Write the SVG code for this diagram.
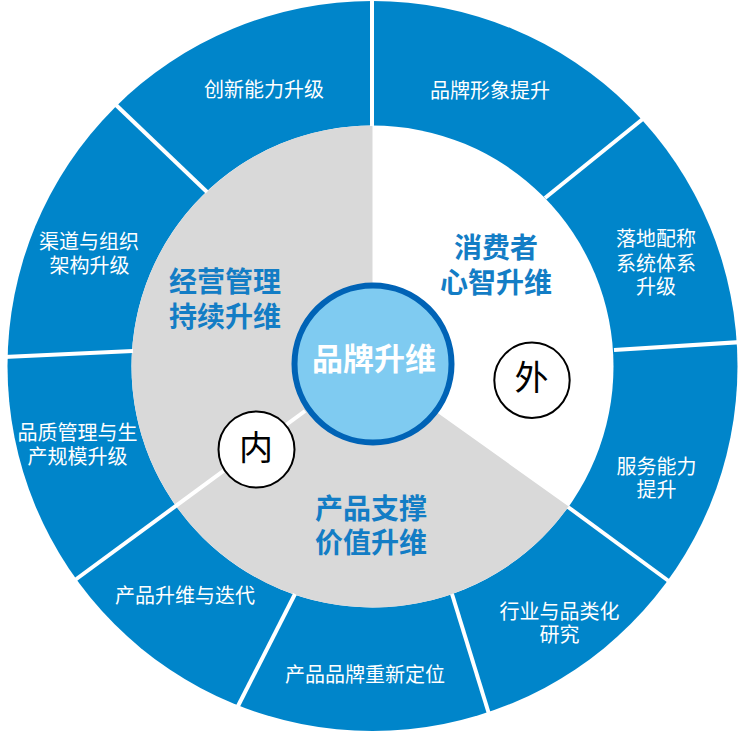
<svg xmlns="http://www.w3.org/2000/svg" width="740" height="734" viewBox="0 0 740 734">
<style>
.ring{font-family:"Noto Sans CJK SC","Noto Sans",sans-serif;font-size:20px;fill:#ffffff;text-anchor:middle}
.big{font-family:"Noto Sans CJK SC","Noto Sans",sans-serif;font-size:28px;font-weight:bold;fill:#137DC5;text-anchor:middle}
.mark{font-family:"Noto Sans CJK SC","Noto Sans",sans-serif;font-size:34px;fill:#000000;text-anchor:middle}
.div{stroke:#ffffff;stroke-width:4;fill:none}
.badge{fill:#ffffff;stroke:#000000;stroke-width:2}
</style>
<rect width="740" height="734" fill="#ffffff"/>
<g id="ring">
<circle cx="372.5" cy="366" r="365" fill="#0085CA"/>
<circle cx="372.5" cy="366.5" r="241" fill="#ffffff"/>
</g>
<g id="inner-sectors">
<path d="M372.5,366.5 L568.7,506.5 A241,241 0 1 1 372.5,125.5 Z" fill="#D9D9D9"/>
</g>
<g id="connectors">
<line class="div" x1="372" y1="-2" x2="372" y2="126"/>
<line class="div" x1="545" y1="198" x2="644" y2="118"/>
<line class="div" x1="614" y1="350" x2="742" y2="342"/>
<line class="div" x1="568" y1="507" x2="670" y2="582"/>
<line class="div" x1="452" y1="594" x2="489" y2="714"/>
<line class="div" x1="295" y1="594" x2="237" y2="708"/>
<line class="div" x1="305" y1="411" x2="75" y2="580"/>
<line class="div" x1="133" y1="351" x2="4" y2="357"/>
<line class="div" x1="207" y1="192" x2="116" y2="105"/>
</g>
<g id="node-innovation"><text class="ring" x="264" y="97">创新能力升级</text></g>
<g id="node-brand-image"><text class="ring" x="490" y="97.7">品牌形象提升</text></g>
<g id="node-channel"><text class="ring"><tspan x="89" y="249">渠道与组织</tspan><tspan x="89.5" y="272.5">架构升级</tspan></text></g>
<g id="node-landing"><text class="ring"><tspan x="656" y="246">落地配称</tspan><tspan x="656" y="270.5">系统体系</tspan><tspan x="656" y="294">升级</tspan></text></g>
<g id="node-quality"><text class="ring"><tspan x="77.5" y="440.4">品质管理与生</tspan><tspan x="77.5" y="463.7">产规模升级</tspan></text></g>
<g id="node-service"><text class="ring"><tspan x="656.5" y="474">服务能力</tspan><tspan x="656.5" y="497">提升</tspan></text></g>
<g id="node-product-iter"><text class="ring" x="185" y="603.2">产品升维与迭代</text></g>
<g id="node-reposition"><text class="ring" x="365" y="681.7">产品品牌重新定位</text></g>
<g id="node-industry"><text class="ring"><tspan x="559.5" y="618.7">行业与品类化</tspan><tspan x="559.5" y="642">研究</tspan></text></g>
<g id="node-management"><text class="big"><tspan x="225" y="292">经营管理</tspan><tspan x="225" y="327">持续升维</tspan></text></g>
<g id="node-consumer"><text class="big"><tspan x="496" y="258">消费者</tspan><tspan x="496" y="292.5">心智升维</tspan></text></g>
<g id="node-product"><text class="big"><tspan x="371" y="519">产品支撑</tspan><tspan x="371" y="552.5">价值升维</tspan></text></g>
<g id="node-center">
<circle cx="373" cy="364" r="78.5" fill="#7FCBF1" stroke="#0063B6" stroke-width="6"/>
<text x="374" y="370" text-anchor="middle" font-family="'Noto Sans CJK SC','Noto Sans',sans-serif" font-size="31" font-weight="bold" fill="#ffffff">品牌升维</text>
</g>
<g id="node-outer-mark">
<circle class="badge" cx="532" cy="380.3" r="37.7"/>
<text class="mark" x="531.5" y="390">外</text>
</g>
<g id="node-inner-mark">
<circle class="badge" cx="256.5" cy="449.5" r="38"/>
<text class="mark" x="256" y="460" font-size="33">内</text>
</g>
</svg>
